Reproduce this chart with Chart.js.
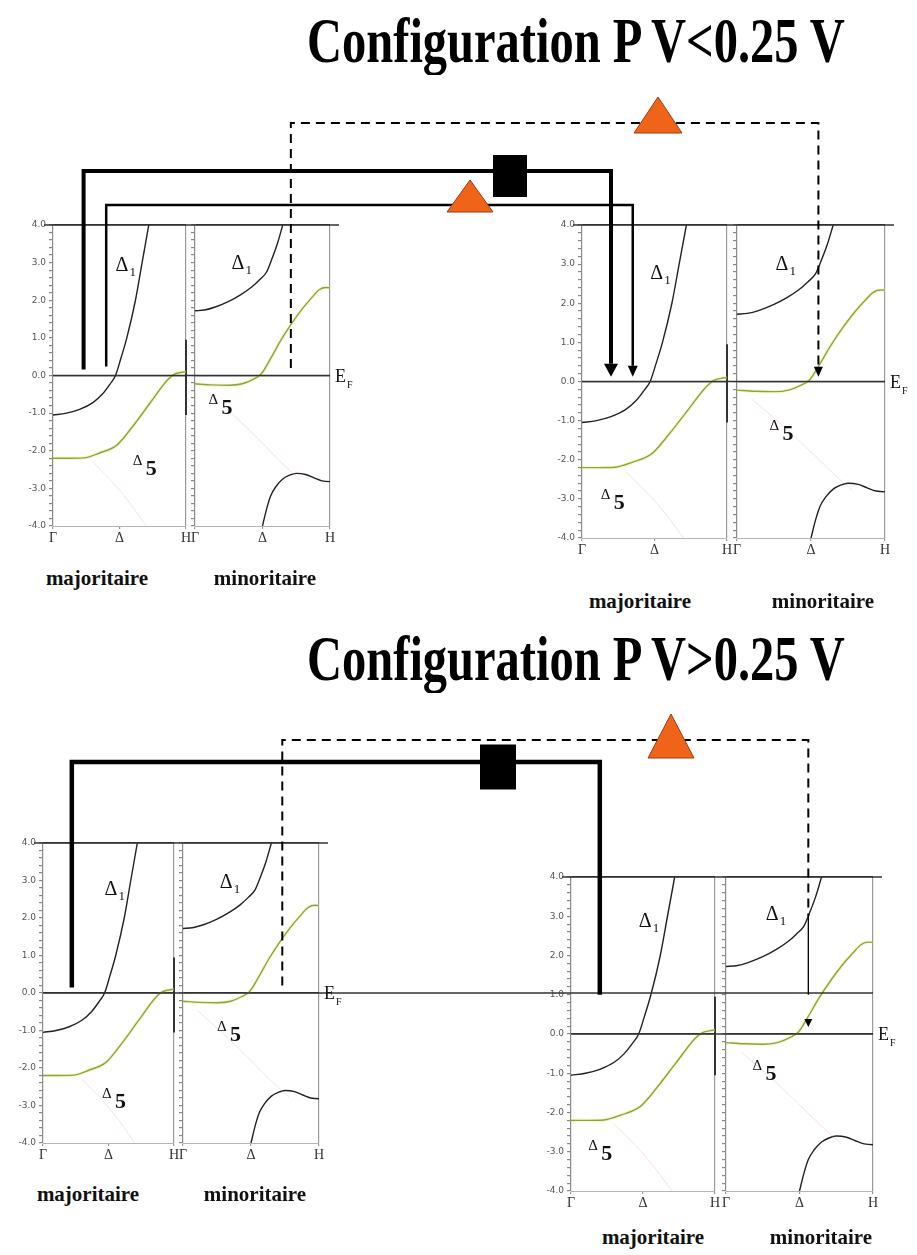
<!DOCTYPE html>
<html>
<head>
<meta charset="utf-8">
<title>Configuration P</title>
<script src="https://cdn.jsdelivr.net/npm/chart.js@4.4.1/dist/chart.umd.min.js"></script>
<style>
  html, body { margin: 0; padding: 0; background: #fff; }
  #page { position: relative; width: 917px; height: 1255px; overflow: hidden; background: #fff; }
  #page canvas { position: absolute; }
  .title { position: absolute; left: 307px; font: bold 48.5px "Liberation Serif", "Times New Roman", serif;
           line-height: 48px; white-space: nowrap; transform: scaleY(1.3); transform-origin: 0 0; color: #000; }
  .spin { position: absolute; width: 170px; margin-left: -85px; text-align: center;
          font: bold 21px "Liberation Serif", serif; line-height: 21px; color: #111; }
  #overlay { z-index: 5; }
</style>
</head>
<body>
<div id="page">
  <div class="title" style="top:10px">Configuration P V&lt;0.25 V</div>
  <div class="title" style="top:628px">Configuration P V&gt;0.25 V</div>
  <canvas id="overlay" width="917" height="1255"></canvas>
</div>
<script>
// k along the path: 0 = Γ, 0.5 = Δ, 1 = H ; energies in eV
const kTicks = [0, 0.5, 1];
const kLabels = ['Γ', 'Δ', 'H'];
const eMin = -4, eMax = 4;

// majority spin bands
const majD1K = [0, 0.1, 0.2, 0.3, 0.37, 0.43, 0.47, 0.51, 0.555, 0.62, 0.67, 0.72];
const majD1E = [-1.05, -1.0, -0.9, -0.72, -0.5, -0.22, 0.0, 0.45, 1.0, 2.0, 3.0, 4.0];
const majD5K = [0, 0.12, 0.23, 0.35, 0.48, 0.6, 0.73, 0.86, 0.91, 0.96, 1.0];
const majD5E = [-2.2, -2.2, -2.19, -2.06, -1.85, -1.35, -0.73, -0.12, 0.03, 0.08, 0.1];
const majGhostK = [0.3, 0.45, 0.58, 0.7];
const majGhostE = [-2.3, -2.85, -3.4, -4.0];

// minority spin bands
const minD1K = [0, 0.07, 0.15, 0.25, 0.34, 0.42, 0.48, 0.53, 0.57, 0.61, 0.65];
const minD1E = [1.72, 1.74, 1.82, 1.97, 2.15, 2.35, 2.55, 2.75, 3.1, 3.5, 4.0];
const minD5K = [0, 0.12, 0.25, 0.35, 0.43, 0.49, 0.56, 0.63, 0.71, 0.79, 0.86, 0.92, 0.97, 1.0];
const minD5E = [-0.22, -0.25, -0.26, -0.22, -0.1, 0.04, 0.45, 0.9, 1.35, 1.75, 2.05, 2.28, 2.34, 2.33];
const minLowK = [0.5, 0.53, 0.56, 0.6, 0.65, 0.7, 0.75, 0.82, 0.88, 0.94, 1.0, 1.05];
const minLowE = [-4.0, -3.55, -3.2, -2.95, -2.75, -2.65, -2.6, -2.63, -2.72, -2.8, -2.82, -2.8];
const minGhostK = [0.1, 0.3, 0.5, 0.65, 0.78];
const minGhostE = [-0.45, -1.1, -1.8, -2.35, -2.78];

// vertical bar drawn at H on the majority panel
const barK = [1, 1];
const barE = [0.95, -1.05];

// plot areas of the four figures (page pixels)
const groups = {
  TL: { top: 225, bottom: 526, maj: [53, 186], min: [195, 330], spinY: 568, majX: 97, minX: 265 },
  TR: { top: 225, bottom: 538, maj: [582, 727], min: [737, 885], spinY: 591, majX: 640, minX: 823 },
  BL: { top: 843, bottom: 1143, maj: [43, 174], min: [183, 319], spinY: 1184, majX: 88, minX: 255 },
  BR: { top: 877, bottom: 1191, maj: [571, 715], min: [726, 873], spinY: 1227, majX: 653, minX: 821 }
};

// where the Δ labels sit (data coords of the Δ glyph)
const labelPos = {
  TL: { maj: [[0.47, 2.77, '1'], [0.60, -2.39, '5']], min: [[0.27, 2.82, '1'], [0.10, -0.77, '5']] },
  TR: { maj: [[0.47, 2.61, '1'], [0.13, -3.0, '5']],  min: [[0.26, 2.86, '1'], [0.22, -1.23, '5']] },
  BL: { maj: [[0.47, 2.61, '1'], [0.45, -2.8, '5']],  min: [[0.27, 2.8, '1'], [0.25, -1.0, '5']] },
  BR: { maj: [[0.47, 2.73, '1'], [0.12, -2.96, '5']], min: [[0.27, 2.9, '1'], [0.18, -0.92, '5']] }
};

function pts(ks, es) {
  return ks.map((k, i) => ({ x: k, y: es[i] }));
}

const PAD_T = 12, PAD_R = 16, PAD_B = 2, X_AXIS_H = 24;

// draws the Δ1 / Δ5 labels inside a panel
const bandLabels = {
  id: 'bandLabels',
  afterDatasetsDraw(chart, args, opts) {
    const ctx = chart.ctx;
    const { x, y } = chart.scales;
    ctx.save();
    ctx.fillStyle = '#111';
    ctx.textBaseline = 'alphabetic';
    ctx.textAlign = 'left';
    (opts.items || []).forEach(([k, e, sub]) => {
      const px = x.getPixelForValue(k);
      const py = y.getPixelForValue(e);
      if (sub === '1') {
        ctx.font = '20px "Liberation Serif", serif';
        ctx.fillText('Δ', px, py);
        ctx.font = '13px "Liberation Serif", serif';
        ctx.fillText('1', px + 14, py + 5);
      } else {
        ctx.font = '15px "Liberation Serif", serif';
        ctx.fillText('Δ', px, py);
        ctx.font = 'bold 22px "Liberation Serif", serif';
        ctx.fillText('5', px + 13, py + 10);
      }
    });
    ctx.restore();
  }
};

function bandDatasets(side) {
  const line = (data, color, width, extra) => Object.assign({
    data, borderColor: color, borderWidth: width, pointRadius: 0,
    cubicInterpolationMode: 'monotone', fill: false
  }, extra || {});
  if (side === 'maj') {
    return [
      line(pts(majGhostK, majGhostE), 'rgba(235,170,170,0.35)', 1),
      line(pts(majD5K, majD5E), 'rgba(238,232,120,0.35)', 3.5),
      line(pts(majD5K, majD5E), '#5e7d1c', 1.4),
      line(pts(majD1K, majD1E), '#222', 1.4),
      line(pts(barK, barE), '#333', 2, { clip: false })
    ];
  }
  return [
    line(pts(minGhostK, minGhostE), 'rgba(235,170,170,0.35)', 1),
    line(pts(minD5K, minD5E), 'rgba(238,232,120,0.35)', 3.5),
    line(pts(minD5K, minD5E), '#5e7d1c', 1.4),
    line(pts(minD1K, minD1E), '#222', 1.4),
    line(pts(minLowK, minLowE), '#222', 1.4, { clip: { left: 0, top: 0, right: 12, bottom: 0 } })
  ];
}

function makePanel(page, g, name, side) {
  const [l, r] = g[side];
  const axisW = side === 'maj' ? 42 : 6;
  const padL = side === 'maj' ? 2 : 0;
  const canvas = document.createElement('canvas');
  const w = (r - l) + axisW + padL + PAD_R;
  const h = (g.bottom - g.top) + PAD_T + X_AXIS_H + PAD_B;
  canvas.width = w;
  canvas.height = h;
  canvas.style.width = w + 'px';
  canvas.style.height = h + 'px';
  let left = l - axisW - padL, top = g.top - PAD_T;
  canvas.style.left = left + 'px';
  canvas.style.top = top + 'px';
  page.insertBefore(canvas, document.getElementById('overlay'));

  const chart = new Chart(canvas, {
    type: 'line',
    data: { datasets: bandDatasets(side) },
    options: {
      responsive: false,
      animation: false,
      devicePixelRatio: 1,
      events: [],
      layout: { padding: { left: padL, right: PAD_R, top: PAD_T, bottom: PAD_B } },
      plugins: {
        legend: { display: false },
        tooltip: { enabled: false },
        bandLabels: { items: labelPos[name][side] }
      },
      scales: {
        x: {
          type: 'linear', min: 0, max: 1,
          afterFit: s => { s.height = X_AXIS_H; },
          afterBuildTicks: s => { s.ticks = kTicks.map(v => ({ value: v })); },
          ticks: {
            autoSkip: false, maxRotation: 0, padding: 1, color: '#333',
            font: { family: 'Liberation Serif', size: 14 },
            callback: v => kLabels[kTicks.indexOf(v)] || ''
          },
          grid: {
            color: c => (c.tick && c.tick.value === 1) ? '#9a9a9a' : 'rgba(0,0,0,0)',
            tickColor: '#999', tickLength: 3, lineWidth: 1.2
          },
          border: { color: '#b5b5b5', width: 1 }
        },
        y: {
          min: eMin, max: eMax,
          afterFit: s => { s.width = axisW; },
          ticks: {
            stepSize: 0.2, maxTicksLimit: 60, autoSkip: false, padding: 3,
            color: '#555', font: { family: 'DejaVu Sans', size: 9 },
            callback: v => (side === 'maj' && Math.abs(v - Math.round(v)) < 1e-6) ? v.toFixed(1) : ''
          },
          grid: {
            color: c => {
              const v = c.tick ? c.tick.value : null;
              return (v !== null && (Math.abs(v) < 1e-6 || Math.abs(v - 4) < 1e-6)) ? '#333' : 'rgba(0,0,0,0)';
            },
            tickColor: '#888', tickLength: 4, lineWidth: 1.2
          },
          border: { color: '#8a8a8a', width: 1.2 }
        }
      }
    },
    plugins: [bandLabels]
  });

  // nudge the canvas so the plot area lands on the wanted spot
  const dx = l - (left + chart.chartArea.left);
  const dy = g.top - (top + chart.chartArea.top);
  left += dx; top += dy;
  canvas.style.left = left + 'px';
  canvas.style.top = top + 'px';
  return { chart, left, top };
}

const page = document.getElementById('page');
const panels = {};
Object.keys(groups).forEach(name => {
  const g = groups[name];
  panels[name] = { maj: makePanel(page, g, name, 'maj'), min: makePanel(page, g, name, 'min') };
  ['majoritaire', 'minoritaire'].forEach((txt, i) => {
    const d = document.createElement('div');
    d.className = 'spin';
    d.textContent = txt;
    d.style.left = (i === 0 ? g.majX : g.minX) + 'px';
    d.style.top = g.spinY + 'px';
    page.appendChild(d);
  });
});

// page position of (k, E) in a given panel
function at(name, side, k, e) {
  const p = panels[name][side];
  return [p.left + p.chart.scales.x.getPixelForValue(k), p.top + p.chart.scales.y.getPixelForValue(e)];
}

// connectors between the figures: [group, side, k, E] ends, horizontal run at page y "level"
const connectors = [
  { from: ['TL', 'maj', 0.23, 0.16], level: 171, to: ['TR', 'maj', 0.2, 0.12], width: 4, head: [14, 13] },
  { from: ['TL', 'maj', 0.4, 0.24], level: 205, to: ['TR', 'maj', 0.35, 0.12], width: 2.5, head: [10, 11] },
  { from: ['TL', 'min', 0.71, 0.2], level: 123, to: ['TR', 'min', 0.55, 0.12], width: 2, dash: [9, 6], head: [9, 10] },
  { from: ['BL', 'maj', 0.22, 0.15], level: 762, to: ['BR', 'maj', 0.2, 1.0], width: 4.5 },
  { from: ['BL', 'min', 0.73, 0.2], level: 740, to: ['BR', 'min', 0.56, 3.0], width: 2, dash: [9, 6] }
];
const squares = [[510, 176, 34, 42], [498, 767, 36, 45]];
const triangles = [[470, 180, 23, 32], [658, 97, 24, 36], [671, 714, 23, 44]];

function drawOverlay() {
  const ctx = document.getElementById('overlay').getContext('2d');
  ctx.strokeStyle = '#000';
  ctx.fillStyle = '#000';

  // frame lines that run across both panels of a figure
  Object.keys(groups).forEach(name => {
    const g = groups[name];
    ctx.lineWidth = 1.3;
    ctx.strokeStyle = '#333';
    const top = at(name, 'maj', 0, 4)[1];
    ctx.beginPath();
    ctx.moveTo(g.maj[0] - 9, top); ctx.lineTo(g.min[1] + 9, top);
    ctx.stroke();
    const zero = at(name, 'maj', 0, 0)[1];
    ctx.beginPath();
    ctx.moveTo(g.maj[0], zero);
    ctx.lineTo(name === 'BL' ? groups.BR.min[1] : g.min[1], zero);
    ctx.stroke();
    // E_F label
    ctx.fillStyle = '#111';
    ctx.font = '18px "Liberation Serif", serif';
    ctx.fillText('E', g.min[1] + 5, zero + 6);
    ctx.font = '10px "Liberation Serif", serif';
    ctx.fillText('F', g.min[1] + 17, zero + 12);
  });

  ctx.fillStyle = '#000';
  ctx.strokeStyle = '#000';
  connectors.forEach(c => {
    const a = at(...c.from);
    const b = at(...c.to);
    const hh = c.head ? c.head[1] : 0;
    ctx.lineWidth = c.width;
    ctx.setLineDash(c.dash || []);
    ctx.lineJoin = 'miter';
    ctx.beginPath();
    ctx.moveTo(a[0], a[1]);
    ctx.lineTo(a[0], c.level);
    ctx.lineTo(b[0], c.level);
    ctx.lineTo(b[0], b[1] - hh);
    ctx.stroke();
    ctx.setLineDash([]);
    if (c.head) {
      ctx.beginPath();
      ctx.moveTo(b[0], b[1]);
      ctx.lineTo(b[0] - c.head[0] / 2, b[1] - hh);
      ctx.lineTo(b[0] + c.head[0] / 2, b[1] - hh);
      ctx.closePath();
      ctx.fill();
    }
  });

  // thin continuation and small arrow in the last minority panel
  const s1 = at('BR', 'min', 0.56, 3.0), s2 = at('BR', 'min', 0.56, 1.0), tip = at('BR', 'min', 0.56, 0.18);
  ctx.lineWidth = 1.3;
  ctx.beginPath(); ctx.moveTo(s1[0], s1[1]); ctx.lineTo(s2[0], s2[1]); ctx.stroke();
  ctx.beginPath();
  ctx.moveTo(tip[0], tip[1]); ctx.lineTo(tip[0] - 4, tip[1] - 8); ctx.lineTo(tip[0] + 4, tip[1] - 8);
  ctx.closePath(); ctx.fill();

  squares.forEach(([cx, cy, w, h]) => { ctx.fillRect(cx - w / 2, cy - h / 2, w, h); });

  triangles.forEach(([cx, apex, half, h]) => {
    ctx.beginPath();
    ctx.moveTo(cx, apex); ctx.lineTo(cx - half, apex + h); ctx.lineTo(cx + half, apex + h);
    ctx.closePath();
    ctx.fillStyle = '#ef6418';
    ctx.fill();
    ctx.lineWidth = 1;
    ctx.strokeStyle = '#9a3d12';
    ctx.stroke();
  });
}

drawOverlay();
</script>
</body>
</html>
